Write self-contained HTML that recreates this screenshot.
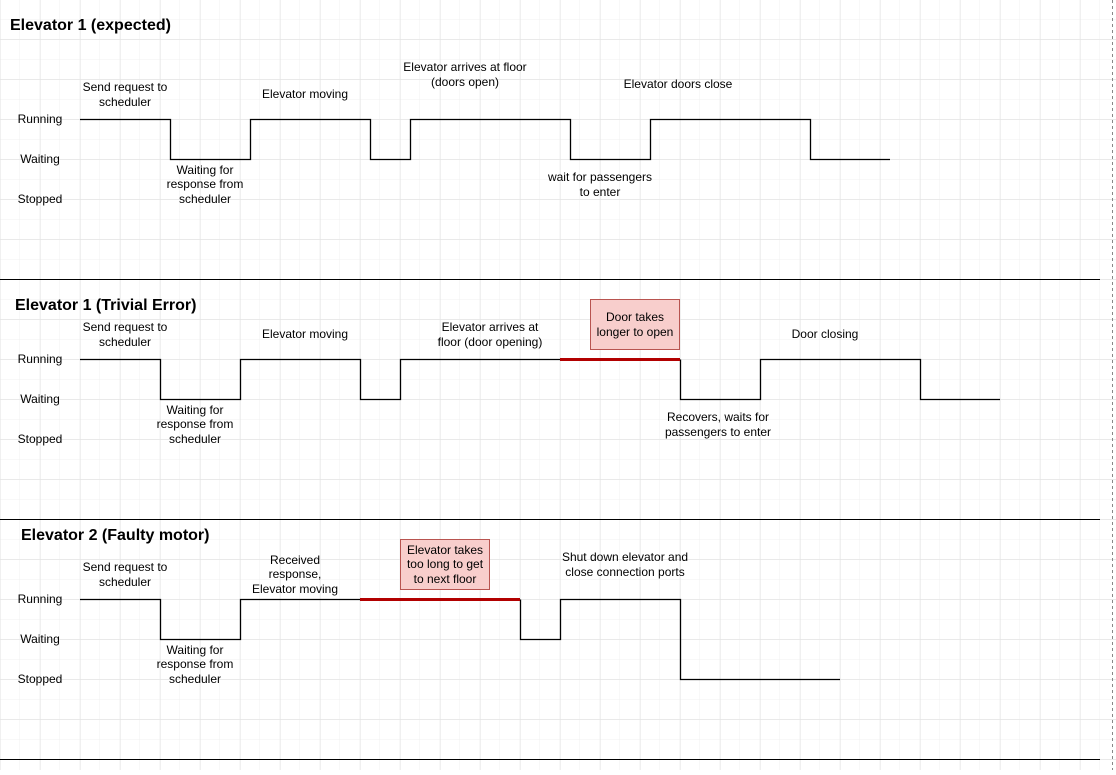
<!DOCTYPE html>
<html><head><style>
body{margin:0;width:1116px;height:770px;overflow:hidden;background:#fff;font-family:"Liberation Sans",Arial,sans-serif}
</style></head><body>
<svg width="1116" height="770" xmlns="http://www.w3.org/2000/svg" font-family="Liberation Sans, Arial, sans-serif">
<defs>
<pattern id="g1" width="20" height="20" patternUnits="userSpaceOnUse"><path d="M20 0V20M0 20H20" stroke="#f0f0f0" stroke-width="1" fill="none"/></pattern>
<pattern id="g2" width="40" height="40" patternUnits="userSpaceOnUse" x="0.5" y="-0.5"><path d="M40 0V40M0 40H40" stroke="#e2e2e2" stroke-width="1" fill="none"/></pattern>
</defs>
<rect width="1116" height="770" fill="url(#g1)"/>
<rect width="1116" height="770" fill="url(#g2)"/>
<g stroke="#000" stroke-width="1">
<line x1="0" y1="279.5" x2="1100" y2="279.5"/>
<line x1="0" y1="519.5" x2="1100" y2="519.5"/>
<line x1="0" y1="759.5" x2="1100" y2="759.5"/>
</g>
<line x1="1112.5" y1="0" x2="1112.5" y2="770" stroke="#888" stroke-dasharray="3,3"/>
<g font-size="12" fill="#000" text-anchor="middle">
<text x="40" y="123">Running</text><text x="40" y="163">Waiting</text><text x="40" y="203">Stopped</text>
<text x="40" y="363">Running</text><text x="40" y="403">Waiting</text><text x="40" y="443">Stopped</text>
<text x="40" y="603">Running</text><text x="40" y="643">Waiting</text><text x="40" y="683">Stopped</text>
</g>
<g font-size="16" font-weight="bold">
<text x="10" y="30">Elevator 1 (expected)</text>
<text x="15" y="310">Elevator 1 (Trivial Error)</text>
<text x="21" y="540">Elevator 2 (Faulty motor)</text>
</g>
<g fill="none" stroke="#000" stroke-width="1.3">
<polyline points="80,119.5 170.5,119.5 170.5,159.5 250.5,159.5 250.5,119.5 370.5,119.5 370.5,159.5 410.5,159.5 410.5,119.5 570.5,119.5 570.5,159.5 650.5,159.5 650.5,119.5 810.5,119.5 810.5,159.5 890,159.5"/>
<polyline points="80,359.5 160.5,359.5 160.5,399.5 240.5,399.5 240.5,359.5 360.5,359.5 360.5,399.5 400.5,399.5 400.5,359.5 560,359.5"/>
<polyline points="680.5,359.5 680.5,399.5 760.5,399.5 760.5,359.5 920.5,359.5 920.5,399.5 1000,399.5"/>
<polyline points="80,599.5 160.5,599.5 160.5,639.5 240.5,639.5 240.5,599.5 360,599.5"/>
<polyline points="520.5,599.5 520.5,639.5 560.5,639.5 560.5,599.5 680.5,599.5 680.5,679.5 840,679.5"/>
</g>
<g stroke="#b20000" stroke-width="3">
<line x1="560" y1="359.5" x2="680" y2="359.5"/>
<line x1="360" y1="599.5" x2="520" y2="599.5"/>
</g>
<rect x="590.5" y="299.5" width="89" height="50" fill="#f8cecc" stroke="#b85450"/>
<rect x="400.5" y="539.5" width="89" height="50" fill="#f8cecc" stroke="#b85450"/>
<g font-size="12" fill="#000" text-anchor="middle">
<text x="125" y="91">Send request to</text><text x="125" y="106">scheduler</text>
<text x="205" y="174">Waiting for</text><text x="205" y="188">response from</text><text x="205" y="203">scheduler</text>
<text x="305" y="98">Elevator moving</text>
<text x="465" y="71">Elevator arrives at floor</text><text x="465" y="86">(doors open)</text>
<text x="678" y="88">Elevator doors close</text>
<text x="600" y="181">wait for passengers</text><text x="600" y="196">to enter</text>

<text x="125" y="331">Send request to</text><text x="125" y="346">scheduler</text>
<text x="195" y="414">Waiting for</text><text x="195" y="428">response from</text><text x="195" y="443">scheduler</text>
<text x="305" y="338">Elevator moving</text>
<text x="490" y="331">Elevator arrives at</text><text x="490" y="346">floor (door opening)</text>
<text x="635" y="321">Door takes</text><text x="635" y="336">longer to open</text>
<text x="825" y="338">Door closing</text>
<text x="718" y="421">Recovers, waits for</text><text x="718" y="436">passengers to enter</text>

<text x="125" y="571">Send request to</text><text x="125" y="586">scheduler</text>
<text x="195" y="654">Waiting for</text><text x="195" y="668">response from</text><text x="195" y="683">scheduler</text>
<text x="295" y="564">Received</text><text x="295" y="578">response,</text><text x="295" y="593">Elevator moving</text>
<text x="445" y="554">Elevator takes</text><text x="445" y="568">too long to get</text><text x="445" y="583">to next floor</text>
<text x="625" y="561">Shut down elevator and</text><text x="625" y="576">close connection ports</text>
</g>
</svg>
</body></html>
